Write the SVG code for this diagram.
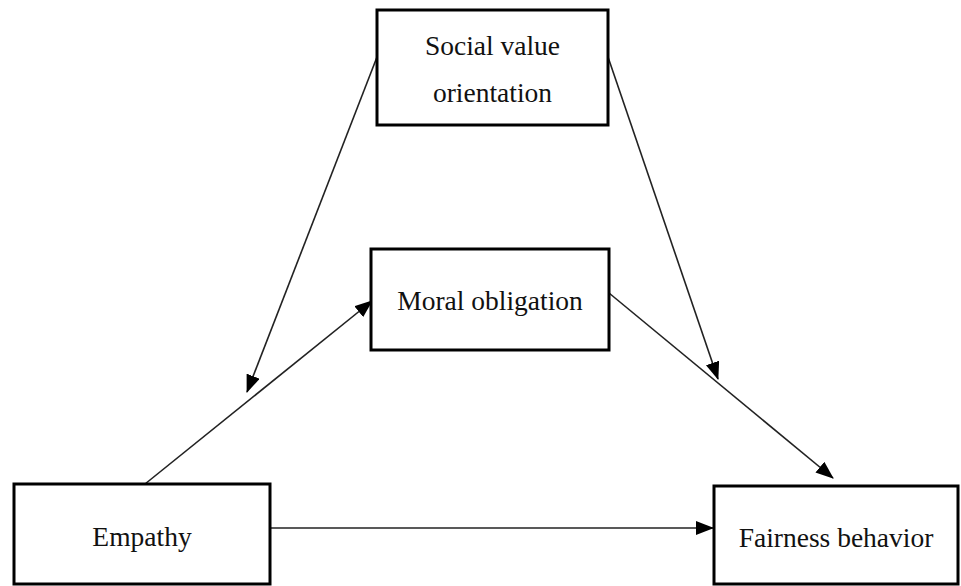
<svg xmlns="http://www.w3.org/2000/svg" width="961" height="586" viewBox="0 0 961 586">
<style>
.box{fill:#fff;stroke:#000;stroke-width:3}
.lbl{font-family:"Liberation Serif","Times New Roman",serif;font-size:27.5px;fill:#111;text-anchor:middle}
.conn{stroke:#222;stroke-width:1.6;fill:none;marker-end:url(#ah)}
</style>
<defs>
<marker id="ah" markerUnits="userSpaceOnUse" markerWidth="18" markerHeight="14" refX="17" refY="7" orient="auto">
<path d="M0,0 L18,7 L0,14 Z" fill="#000"/>
</marker>
</defs>
<rect width="961" height="586" fill="#fff"/>
<g id="connectors">
<line class="conn" x1="377" y1="57" x2="247" y2="392"/>
<line class="conn" x1="608" y1="57" x2="718" y2="379"/>
<line class="conn" x1="145" y1="484" x2="372" y2="301"/>
<line class="conn" x1="609" y1="293" x2="833" y2="478"/>
<line class="conn" x1="270" y1="528" x2="713" y2="528"/>
</g>
<g id="svo">
<rect class="box" x="377" y="10" width="231" height="115"/>
<text class="lbl" x="492.5" y="55">Social value</text>
<text class="lbl" x="492.5" y="102">orientation</text>
</g>
<g id="moral">
<rect class="box" x="371" y="249" width="238" height="101"/>
<text class="lbl" x="490" y="310">Moral obligation</text>
</g>
<g id="empathy">
<rect class="box" x="14" y="484" width="256" height="100"/>
<text class="lbl" x="142" y="546">Empathy</text>
</g>
<g id="fairness">
<rect class="box" x="714" y="486" width="244" height="98"/>
<text class="lbl" x="836" y="547">Fairness behavior</text>
</g>
</svg>
